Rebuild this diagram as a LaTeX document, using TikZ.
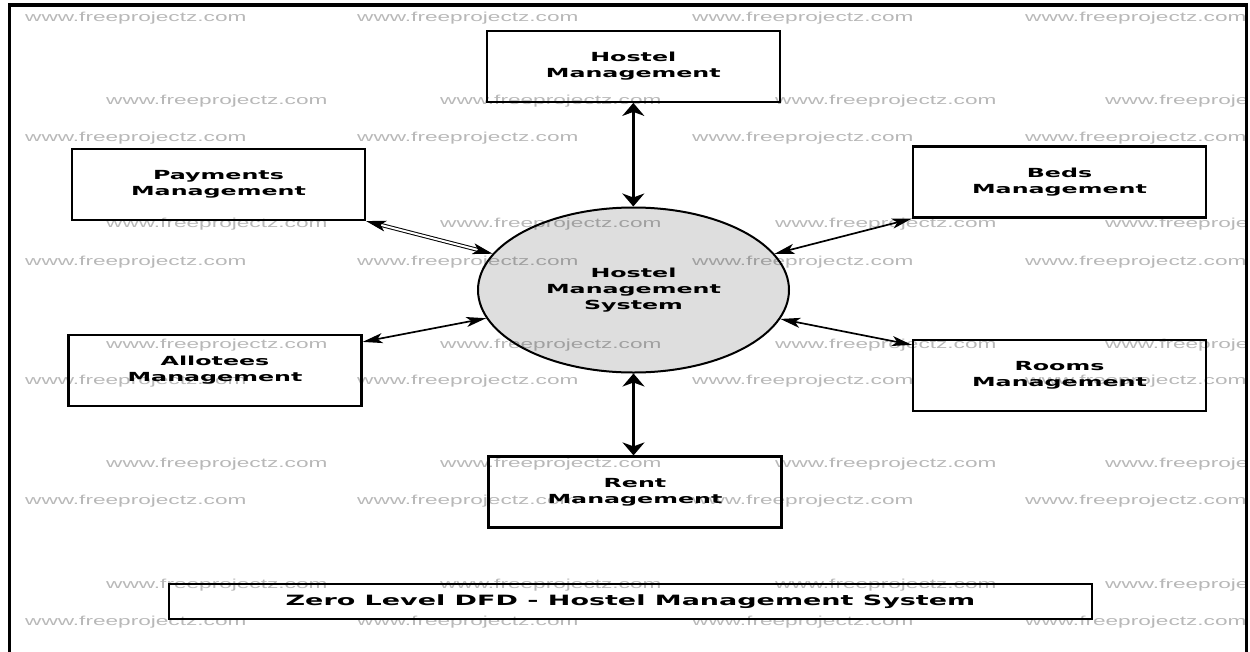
\documentclass[tikz,border=0pt]{standalone}
\usepackage{fontspec}
\usetikzlibrary{arrows.meta,shapes.geometric}
\newfontfamily\lblfont{DejaVu Sans}[FakeStretch=1.9]
\newfontfamily\wmfont{Liberation Sans}[FakeStretch=1.74]
\definecolor{procgray}{RGB}{222,222,222}
\begin{document}
\begin{tikzpicture}[x=1pt,y=-1pt,
  lbl/.style={font=\lblfont\bfseries\fontsize{12.5}{16}\selectfont, align=center, text=black},
  box/.style={lbl, draw, line width=2.2pt, minimum width=293pt, minimum height=71pt, inner sep=0pt},
  proc/.style={lbl, ellipse, draw, line width=2pt, fill=procgray, minimum width=311pt, minimum height=165pt, inner sep=0pt},
  titlebox/.style={draw, line width=2.2pt, minimum width=923pt, minimum height=35pt, inner sep=0pt,
    font=\lblfont\bfseries\fontsize{14.2}{16}\selectfont},
  vflow/.style={line width=2.6pt, {Stealth[length=13pt,width=22pt,inset=4pt]}-{Stealth[length=13pt,width=22pt,inset=4pt]}},
  dflow/.style={line width=1.7pt, {Stealth[length=20pt,width=10pt,inset=5pt]}-{Stealth[length=20pt,width=10pt,inset=5pt]}},
  dblflow/.style={double, double distance=2pt, line width=1pt, {Stealth[length=20pt,width=11pt,inset=5pt]}-{Stealth[length=20pt,width=11pt,inset=5pt]}},
  wm/.style={font=\wmfont\fontsize{13}{13}\selectfont, text=black, text opacity=0.28, inner sep=0pt, anchor=west}
]
\useasboundingbox (0,0) rectangle (1250,651);
\fill[white] (0,0) rectangle (1250,651);

% frame
\draw[line width=3.5pt] (9.5,660) -- (9.5,5) -- (1246.5,5) -- (1246.5,660);

% process and entities
\node[proc] (c) at (633.5,290) {Hostel\\Management\\System};
\node[box] (hm) at (633.3,66.3) {Hostel\\Management};
\node[box] (pm) at (218.5,184.5) {Payments\\Management};
\node[box] (bm) at (1059.5,182) {Beds\\Management};
\node[box] (am) at (215,370.5) {Allotees\\Management};
\node[box] (rm) at (1059.5,375.5) {Rooms\\Management};
\node[box] (rn) at (635,492) {Rent\\Management};
\node[titlebox] (t) at (630.5,601.5) {Zero Level DFD - Hostel Management System};

% flows
\draw[vflow] (hm.south) -- (hm.south |- c.north);
\draw[vflow] (c.south) -- (c.south |- rn.north);
\draw[dblflow] (pm.south east) -- (c);
\draw[dflow] (bm.south west) -- (c);
\draw[dflow] ([yshift=-8pt]am.north east) -- (c);
\draw[dflow] ([yshift=-6pt]rm.north west) -- (c);

% watermark
\begin{scope}
\clip (11,6) rectangle (1245,651);
\foreach \y in {18,138,262,381,501,622}
  \foreach \x in {25,357,692,1025}
    \node[wm] (wa-\x-\y) at (\x,\y) {www.freeprojectz.com};
\foreach \y in {101,224,345,464,585}
  \foreach \x in {106,440,775,1105}
    \node[wm] (wb-\x-\y) at (\x,\y) {www.freeprojectz.com};
\end{scope}
\end{tikzpicture}
\end{document}
